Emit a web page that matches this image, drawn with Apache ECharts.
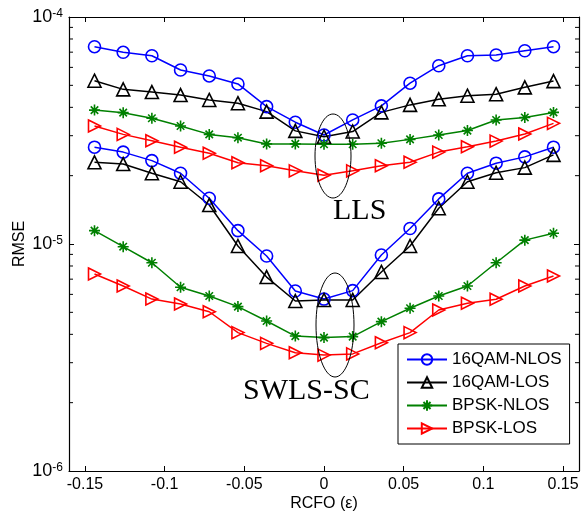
<!DOCTYPE html>
<html>
<head>
<meta charset="utf-8">
<script src="https://cdn.jsdelivr.net/npm/echarts@6/dist/echarts.min.js"></script>
<style>
html, body { margin: 0; padding: 0; background: #fff; }
#chart { width: 583px; height: 518px; }
</style>
</head>
<body>
<div id="chart"></div>
<script>
// RCFO values (x)
var rcfo = [-0.144, -0.126, -0.108, -0.09, -0.072, -0.054, -0.036, -0.018, 0,
    0.018, 0.036, 0.054, 0.072, 0.09, 0.108, 0.126, 0.144];
var xTicks = [-0.15, -0.1, -0.05, 0, 0.05, 0.1, 0.15];
var yTicks = [1e-6, 1e-5, 1e-4];

// LLS curves
var qamNlosLLS = [7.40e-5, 6.99e-5, 6.75e-5, 5.84e-5, 5.50e-5, 5.07e-5, 4.03e-5, 3.44e-5, 3.02e-5,
    3.52e-5, 4.06e-5, 5.11e-5, 6.10e-5, 6.75e-5, 6.80e-5, 7.10e-5, 7.40e-5];
var qamLosLLS = [5.24e-5, 4.80e-5, 4.67e-5, 4.53e-5, 4.31e-5, 4.17e-5, 3.83e-5, 3.15e-5, 2.97e-5,
    3.13e-5, 3.80e-5, 4.10e-5, 4.34e-5, 4.50e-5, 4.57e-5, 4.90e-5, 5.22e-5];
var bpskNlosLLS = [3.89e-5, 3.79e-5, 3.58e-5, 3.31e-5, 3.04e-5, 2.94e-5, 2.76e-5, 2.76e-5, 2.75e-5,
    2.75e-5, 2.78e-5, 2.89e-5, 3.02e-5, 3.16e-5, 3.52e-5, 3.61e-5, 3.80e-5];
var bpskLosLLS = [3.31e-5, 3.04e-5, 2.85e-5, 2.67e-5, 2.51e-5, 2.28e-5, 2.21e-5, 2.10e-5, 2.01e-5,
    2.10e-5, 2.21e-5, 2.29e-5, 2.54e-5, 2.68e-5, 2.84e-5, 3.05e-5, 3.40e-5];

// SWLS-SC curves
var qamNlosSW = [2.67e-5, 2.54e-5, 2.33e-5, 2.05e-5, 1.59e-5, 1.145e-5, 8.85e-6, 6.21e-6, 5.72e-6,
    6.23e-6, 8.94e-6, 1.17e-5, 1.58e-5, 2.05e-5, 2.27e-5, 2.42e-5, 2.67e-5];
var qamLosSW = [2.29e-5, 2.25e-5, 2.05e-5, 1.88e-5, 1.485e-5, 9.8e-6, 7.15e-6, 5.61e-6, 5.67e-6,
    5.67e-6, 7.53e-6, 9.8e-6, 1.437e-5, 1.88e-5, 2.06e-5, 2.17e-5, 2.47e-5];
var bpskNlosSW = [1.145e-5, 9.73e-6, 8.27e-6, 6.45e-6, 5.90e-6, 5.30e-6, 4.58e-6, 3.93e-6, 3.87e-6,
    3.91e-6, 4.55e-6, 5.21e-6, 5.90e-6, 6.53e-6, 8.27e-6, 1.04e-5, 1.115e-5];
var bpskLosSW = [7.38e-6, 6.53e-6, 5.72e-6, 5.44e-6, 5.03e-6, 4.07e-6, 3.65e-6, 3.32e-6, 3.24e-6,
    3.28e-6, 3.67e-6, 4.07e-6, 5.12e-6, 5.48e-6, 5.71e-6, 6.53e-6, 7.23e-6];

var names = ['16QAM-NLOS', '16QAM-LOS', 'BPSK-NLOS', 'BPSK-LOS'];
var colors = ['#0000ff', '#000000', '#008000', '#ff0000'];
var symbols = ['circle', 'triangle',
    'path://M5,0L5,10M0,5L10,5M1.6,1.6L8.4,8.4M1.6,8.4L8.4,1.6',
    'path://M0,0L10,5L0,10Z'];
var sizes = [12, 13, 11, 12];

var chart = echarts.init(document.getElementById('chart'));
var font = 'Liberation Sans';

function pairs(arr) {
    return rcfo.map(function (x, i) { return [x, arr[i]]; });
}
function makeSeries(k, arr) {
    return {
        name: names[k],
        type: 'line',
        data: pairs(arr),
        symbol: symbols[k],
        symbolSize: sizes[k],
        showAllSymbol: true,
        animation: false,
        lineStyle: { color: colors[k], width: 1.5 },
        itemStyle: { color: 'transparent', borderColor: colors[k], borderWidth: 1.6 }
    };
}

var axisLine = { show: true, onZero: false, lineStyle: { color: '#000', width: 1.2 } };

var option = {
    backgroundColor: '#fff',
    animation: false,
    grid: { left: 69, right: 4, top: 17, bottom: 47 },
    legend: {
        orient: 'vertical',
        left: 398, top: 344,
        padding: [7, 8, 7, 8],
        itemGap: 6,
        itemWidth: 40,
        itemHeight: 13,
        borderColor: '#000',
        borderWidth: 1,
        backgroundColor: '#fff',
        textStyle: { fontFamily: font, fontSize: 17, color: '#000' },
        data: names
    },
    xAxis: [{
        type: 'value',
        min: -0.16, max: 0.16,
        name: 'RCFO (\u03b5)',
        nameLocation: 'middle',
        nameGap: 25,
        nameMoveOverlap: false,
        nameTextStyle: { fontFamily: font, fontSize: 16, color: '#000' },
        axisLine: axisLine,
        axisTick: { show: true, inside: true, length: 5, customValues: xTicks, lineStyle: { color: '#000' } },
        axisLabel: { customValues: xTicks, margin: 6, fontFamily: font, fontSize: 16, color: '#000' },
        splitLine: { show: false }
    }, {
        type: 'value',
        position: 'top',
        min: -0.16, max: 0.16,
        axisLine: axisLine,
        axisTick: { show: true, inside: true, length: 5, customValues: xTicks, lineStyle: { color: '#000' } },
        axisLabel: { show: false },
        splitLine: { show: false }
    }],
    yAxis: [{
        type: 'log',
        logBase: 10,
        min: 1e-6, max: 1e-4,
        name: 'RMSE',
        nameLocation: 'middle',
        nameGap: 41,
        nameMoveOverlap: false,
        nameTextStyle: { fontFamily: font, fontSize: 16, color: '#000' },
        axisLine: axisLine,
        axisTick: { show: true, inside: true, length: 5, customValues: yTicks, lineStyle: { color: '#000' } },
        axisLabel: {
            customValues: yTicks,
            margin: 6,
            fontFamily: font,
            fontSize: 18,
            color: '#000',
            formatter: function (v) {
                var e = Math.round(Math.log(v) / Math.LN10);
                return '{b|10}{s|' + e + '}';
            },
            rich: {
                b: { fontFamily: font, fontSize: 18, color: '#000', lineHeight: 18, verticalAlign: 'bottom' },
                s: { fontFamily: font, fontSize: 12, color: '#000', lineHeight: 12, verticalAlign: 'top', padding: [0, 0, 9, 0] }
            }
        },
        splitLine: { show: false }
    }, {
        type: 'log',
        logBase: 10,
        position: 'right',
        min: 1e-6, max: 1e-4,
        axisLine: axisLine,
        axisTick: { show: true, inside: true, length: 5, customValues: yTicks, lineStyle: { color: '#000' } },
        axisLabel: { show: false },
        splitLine: { show: false }
    }],
    series: [
        makeSeries(0, qamNlosLLS),
        makeSeries(1, qamLosLLS),
        makeSeries(2, bpskNlosLLS),
        makeSeries(3, bpskLosLLS),
        makeSeries(0, qamNlosSW),
        makeSeries(1, qamLosSW),
        makeSeries(2, bpskNlosSW),
        makeSeries(3, bpskLosSW)
    ]
};
chart.setOption(option);

// minor ticks of the log axis (2..9 per decade), both sides
var graphics = [];
var xl = chart.convertToPixel({ xAxisIndex: 0 }, -0.16);
var xr = chart.convertToPixel({ xAxisIndex: 0 }, 0.16);
for (var e = -6; e < -4; e++) {
    for (var k = 2; k <= 9; k++) {
        var py = chart.convertToPixel({ yAxisIndex: 0 }, k * Math.pow(10, e));
        graphics.push({ type: 'line', shape: { x1: xl, y1: py, x2: xl + 4, y2: py }, style: { stroke: '#000', lineWidth: 1 } });
        graphics.push({ type: 'line', shape: { x1: xr - 4, y1: py, x2: xr, y2: py }, style: { stroke: '#000', lineWidth: 1 } });
    }
}

// annotations
graphics.push({ type: 'ellipse', shape: { cx: 333, cy: 156, rx: 18, ry: 42 }, style: { fill: 'none', stroke: '#000', lineWidth: 1 }, z: 10 });
graphics.push({ type: 'ellipse', shape: { cx: 335, cy: 325, rx: 19, ry: 52 }, style: { fill: 'none', stroke: '#000', lineWidth: 1 }, z: 10 });
graphics.push({ type: 'text', style: { text: 'LLS', x: 333, y: 211, verticalAlign: 'middle', font: '30px "Liberation Serif"', fill: '#000' }, z: 10 });
graphics.push({ type: 'text', style: { text: 'SWLS-SC', x: 243, y: 391, verticalAlign: 'middle', font: '30px "Liberation Serif"', fill: '#000' }, z: 10 });

chart.setOption({ graphic: graphics });
</script>
</body>
</html>
